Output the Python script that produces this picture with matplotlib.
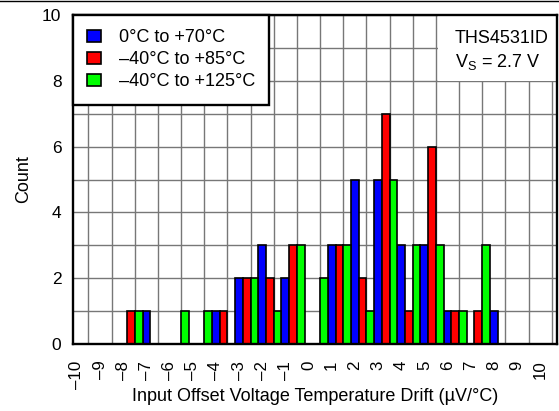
import numpy as np
import matplotlib.pyplot as plt
from matplotlib.patches import Rectangle
from matplotlib.lines import Line2D

plt.rcParams['font.family'] = ['Liberation Sans', 'DejaVu Sans']
plt.rcParams['mathtext.fontset'] = 'custom'
plt.rcParams['mathtext.rm'] = 'Liberation Sans'

# histogram bins (uV/degC) and counts per temperature range
bins = np.arange(-10, 11)
labels = ['0°C to +70°C', '\u201340°C to +85°C', '\u201340°C to +125°C']
colors = ['#0000ff', '#ff0000', '#00ff00']
cnt_0_70 = [0, 0, 0, 1, 0, 0, 1, 2, 3, 2, 0, 3, 5, 5, 3, 3, 1, 0, 1, 0, 0]
cnt_m40_85 = [0, 0, 1, 0, 0, 0, 1, 2, 2, 3, 0, 3, 2, 7, 1, 6, 1, 1, 0, 0, 0]
cnt_m40_125 = [0, 0, 1, 0, 1, 1, 0, 2, 1, 3, 2, 3, 1, 5, 3, 3, 1, 3, 0, 0, 0]
series = [cnt_0_70, cnt_m40_85, cnt_m40_125]

tick_labels = [str(b).replace('-', '\u2013') for b in bins]

fig = plt.figure(figsize=(5.59, 4.11), dpi=100)
ax = fig.add_axes([0.1297, 0.163, 0.8676, 0.8005])

w = 1.0 / 3
for i, (cnt, col, lab) in enumerate(zip(series, colors, labels)):
    cnt = np.asarray(cnt)
    m = cnt > 0
    ax.bar(bins[m] + i * w, cnt[m], width=w, color=col, edgecolor='black',
           linewidth=1.2, label=lab, zorder=3)

ax.set_xlim(-10.19, 10.75)
ax.set_ylim(0, 10)

ax.set_xticks(bins)
ax.set_xticklabels(tick_labels, rotation=90, fontsize=12.2, va='top')
ax.set_xticks(np.arange(-9.5, 11, 1.0), minor=True)
ax.set_yticks(np.arange(0, 11, 2))
ax.set_yticks(np.arange(1, 10, 2), minor=True)
ax.tick_params(axis='both', which='both', length=0)
ax.tick_params(axis='x', pad=12)
ax.tick_params(axis='y', labelsize=12.5, pad=8)

ax.grid(True, which='minor', axis='x', color='#777777', linewidth=1.0, zorder=0)
ax.grid(True, which='both', axis='y', color='#777777', linewidth=1.0, zorder=0)
ax.set_axisbelow(True)

for s in ax.spines.values():
    s.set_linewidth(1.7)
    s.set_zorder(5)

ax.set_xlabel('Input Offset Voltage Temperature Drift (µV/°C)', fontsize=13, labelpad=-1)
ax.set_ylabel('Count', fontsize=13, labelpad=7)

leg = ax.legend(loc='upper left', bbox_to_anchor=(0, 1), borderaxespad=0,
                fontsize=13, fancybox=False, framealpha=1, edgecolor='black',
                handlelength=0.8, handleheight=0.65, handletextpad=0.95,
                labelspacing=0.27, borderpad=0.8)
leg.get_frame().set_linewidth(1.7)
leg.set_zorder(6)

# white box behind the device note
ax.add_patch(Rectangle((5.58, 8), 10.75 - 5.58, 2, facecolor='white',
                       edgecolor='none', zorder=2))
ax.text(0.788, 0.953, 'THS4531ID', transform=ax.transAxes, fontsize=13,
        ha='left', va='top', zorder=4)
ax.text(0.788, 0.887, r'V$_\mathregular{S}$ = 2.7 V', transform=ax.transAxes,
        fontsize=13, ha='left', va='top', zorder=4)

fig.add_artist(Line2D([0, 1], [1 - 0.6 / 411, 1 - 0.6 / 411], color='black',
                      linewidth=1.0, transform=fig.transFigure))

fig.savefig('out.png', dpi=100)
